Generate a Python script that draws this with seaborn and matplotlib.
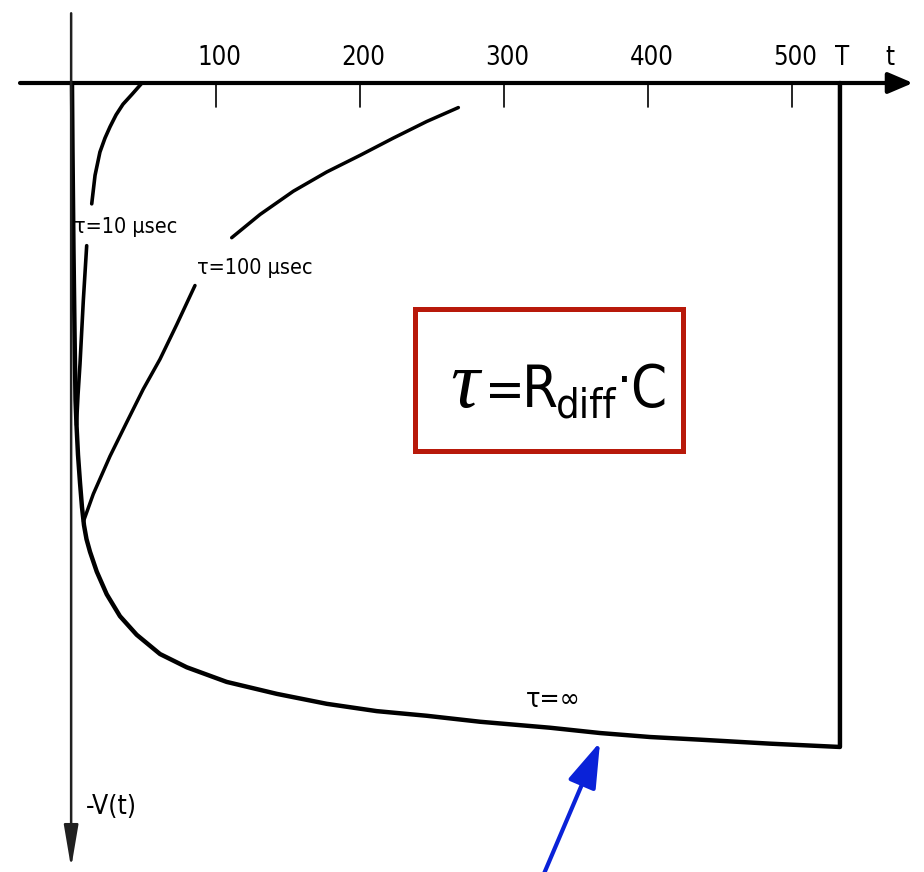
import os
import matplotlib
matplotlib.use("Agg")
import matplotlib.pyplot as plt
from matplotlib import font_manager as fm
from matplotlib.ft2font import FT2Font
from matplotlib.patches import Rectangle
import pandas as pd
import seaborn as sns

# Time in microseconds, -V(t) normalised to the full integrated pulse height
t_inf = [0.0, 0.35, 1.04, 1.74, 2.43, 3.13, 4.17, 5.56, 6.94, 8.33, 10.07, 12.5, 17.2,
         24.1, 33.3, 44.9, 61.1, 79.7, 107.4, 142.2, 176.9, 211.6, 246.3, 283.3,
         331.9, 366.7, 401.4, 436.1, 484.7, 533.3, 533.3]
v_inf = [0.0, 0.101, 0.252, 0.372, 0.477, 0.515, 0.560, 0.602, 0.639, 0.666, 0.687,
         0.706, 0.736, 0.770, 0.803, 0.831, 0.860, 0.880, 0.902, 0.920, 0.935, 0.946,
         0.953, 0.962, 0.971, 0.979, 0.985, 0.989, 0.995, 1.0, 0.0]

t_10 = [3.13, 4.17, 5.56, 7.85, 10.2, 13.7, 16.0, 19.4, 22.9, 26.4, 30.6, 35.4,
        41.7, 48.6]
v_10 = [0.515, 0.470, 0.423, 0.328, 0.245, 0.182, 0.139, 0.104, 0.083, 0.066,
        0.048, 0.032, 0.017, 0.0]

t_100 = [8.0, 14.8, 26.4, 38.0, 49.5, 61.1, 72.7, 85.4, 110.9, 130.6, 153.7, 176.9,
         200.0, 223.1, 246.3, 268.3]
v_100 = [0.660, 0.619, 0.562, 0.511, 0.461, 0.416, 0.364, 0.305, 0.233, 0.198,
         0.163, 0.134, 0.109, 0.083, 0.058, 0.037]

# stretches of each trace left blank where its label sits (t_from, t_to)
label_breaks = {"10": (10.2, 13.7), "100": (85.4, 110.9)}

tick_values = [100, 200, 300, 400, 500]
tick_labels = ["100", "200", "300", "400", "500"]
T_end = 533.3

sns.set_theme(style="white")
plt.rcParams["font.family"] = ["DejaVu Sans"]


def condensed_font():
    """Pick a narrow sans face if one is installed."""
    entries = {os.path.basename(f.fname): f for f in fm.fontManager.ttflist}
    for name in ["NotoSans-ExtraCondensed.ttf", "NotoSans-Condensed.ttf",
                 "LiberationSansNarrow-Regular.ttf", "DejaVuSansCondensed.ttf",
                 "NotoSans-SemiCondensed.ttf"]:
        if name in entries:
            return entries[name].fname
    for base, f in sorted(entries.items()):
        low = base.lower()
        if ("condensed" in low or "narrow" in low) and not any(
                k in low for k in ["bold", "italic", "light", "thin", "black",
                                   "medium", "mono", "serif", "oblique"]):
            return f.fname
    return fm.findfont(fm.FontProperties(family="Liberation Sans"))


NARROW = condensed_font()
_face = FT2Font(NARROW)


def props(text):
    if all(_face.get_char_index(ord(c)) != 0 for c in text if c != " "):
        return fm.FontProperties(fname=NARROW)
    return fm.FontProperties(family=["Liberation Sans", "DejaVu Sans"])


fig = plt.figure(figsize=(9.24, 8.72), dpi=100)
ax = fig.add_axes([0, 0, 1, 1])
ax.set_xlim(-50.0, 591.67)
ax.set_ylim(1.1883, -0.125)
ax.set_axis_off()
renderer = fig.canvas.get_renderer()


def fitted_size(sample, width_px, max_size):
    probe = ax.text(0, 0, sample, fontproperties=props(sample), fontsize=max_size)
    w = probe.get_window_extent(renderer).width
    probe.remove()
    return max_size * min(1.0, width_px / w)


frames = []
for name, ts, vs in [("inf", t_inf, v_inf), ("10", t_10, v_10), ("100", t_100, v_100)]:
    d = pd.DataFrame({"t": ts, "V": vs, "curve": name})
    d["piece"] = 0
    if name in label_breaks:
        lo, hi = label_breaks[name]
        d.loc[d["t"] >= hi, "piece"] = 1
    frames.append(d)
curves = pd.concat(frames, ignore_index=True)

widths = {"inf": 3.2, "10": 2.6, "100": 2.5}
for name, w in widths.items():
    sns.lineplot(data=curves[curves["curve"] == name], x="t", y="V",
                 units="piece", estimator=None, sort=False, color="black", lw=w,
                 solid_joinstyle="round", solid_capstyle="round",
                 ax=ax, legend=False, zorder=3)

# time axis with arrow
ax.annotate("", xy=(584.0, 0.0), xytext=(-36.1, 0.0),
            arrowprops=dict(arrowstyle="-|>,head_length=0.75,head_width=0.32",
                            lw=3.0, color="black", shrinkA=0, shrinkB=0,
                            mutation_scale=20), zorder=4)
# signal axis pointing down
ax.annotate("", xy=(-0.6, 1.182), xytext=(-0.6, -0.105),
            arrowprops=dict(arrowstyle="-|>,head_length=1.3,head_width=0.22",
                            lw=1.8, color="#202020", shrinkA=0, shrinkB=0,
                            mutation_scale=20), zorder=4)

axis_size = fitted_size("100", 44, 26)
for tv, tl in zip(tick_values, tick_labels):
    ax.plot([tv, tv], [0.0, 0.036], color="black", lw=1.2, zorder=4)
    ax.text(tv + 2.5, -0.0377, tl, ha="center", va="center", fontsize=axis_size,
            fontproperties=props(tl), color="black")
ax.text(T_end + 1.5, -0.0377, "T", ha="center", va="center", fontsize=axis_size,
        fontproperties=props("T"), color="black")
ax.text(568.0, -0.0377, "t", ha="center", va="center", fontsize=axis_size,
        fontproperties=props("t"), color="black")
ax.text(27.0, 1.0904, "-V(t)", ha="center", va="center",
        fontsize=fitted_size("-V(t)", 62, 19), fontproperties=props("-V(t)"),
        color="black")

# curve labels
label_size = fitted_size("τ=100 µsec", 116, 22)
for x, y, s, k in [(37.5, 0.217, "τ=10 µsec", 1.0), (127.0, 0.279, "τ=100 µsec", 1.0),
                   (334.0, 0.930, "τ=∞", 1.25)]:
    ax.text(x, y, s, ha="center", va="center", fontsize=label_size * k,
            fontproperties=props(s), color="black", zorder=5)

# time-constant definition in a red frame
ax.add_patch(Rectangle((238.2, 0.340), 424.3 - 238.2, 0.554 - 0.340,
                       fill=False, edgecolor="#b8190a", lw=3.6, zorder=2))
base = 0.488
box_size = fitted_size("R", 36, 52)
em_px = box_size * 100 / 72
ax.text(272.9, base, "τ", ha="center", va="baseline", fontsize=58,
        style="italic", family=["Liberation Serif", "DejaVu Serif"], color="black")
dot_base = (380 + 0.30 * em_px - 83) / 664
for x, y, s, scale in [(300.7, base, "=", 0.92), (324.8, base, "R", 1.0),
                       (357.0, 0.5045, "diff", 0.72), (383.6, dot_base, "·", 0.9),
                       (400.3, base, "C", 1.0)]:
    ax.text(x, y, s, ha="center", va="baseline", fontsize=box_size * scale,
            fontproperties=props(s), color="black")

# pointer to the τ=∞ curve
ax.annotate("", xy=(366.7, 0.9925), xytext=(324.0, 1.21),
            arrowprops=dict(arrowstyle="-|>,head_length=1.4,head_width=0.45",
                            lw=3.0, color="#0a22d8", shrinkA=0, shrinkB=0,
                            mutation_scale=20), zorder=6)

fig.savefig("out.png", dpi=100, facecolor="white")
